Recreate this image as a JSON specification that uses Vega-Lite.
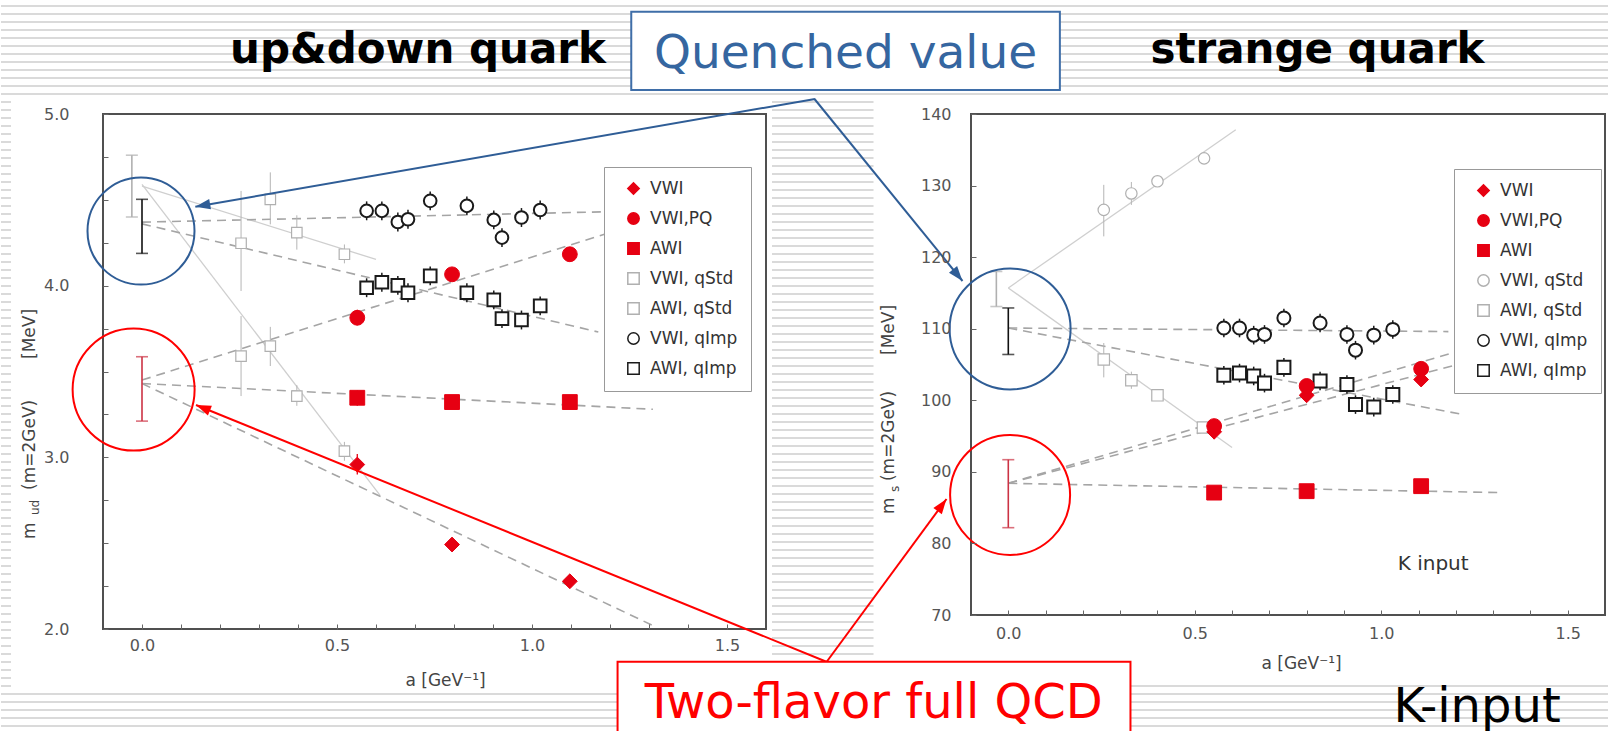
{
  "$schema": "https://vega.github.io/schema/vega-lite/v6.json",
  "padding": 0,
  "background": "white",
  "bounds": "flush",
  "spacing": 205,
  "config": {
    "font": "DejaVu Sans",
    "view": {"stroke": null},
    "axis": {"domain": false, "grid": false, "labelFont": "DejaVu Sans", "labelFontSize": 16, "labelColor": "#555", "tickColor": "#666", "tickSize": -5, "tickWidth": 1, "titleFont": "DejaVu Sans", "titleFontSize": 17, "titleFontWeight": "normal", "titleColor": "#444", "labelOverlap": false, "labelFlush": false},
    "legend": {"orient": "none", "title": null, "fillColor": "white", "strokeColor": "#999", "padding": 13, "rowPadding": 11, "labelFont": "DejaVu Sans", "labelFontSize": 17, "labelColor": "#333", "symbolSize": 130, "symbolStrokeWidth": 1.5, "labelOffset": 8, "symbolOffset": 8}
  },
  "datasets": {
    "pts": [
      {"p":"ud","s":"VWI","a":0.552,"m":2.958,"lo":2.9,"hi":3.02},
      {"p":"ud","s":"VWI","a":0.795,"m":2.492,"lo":2.46,"hi":2.52},
      {"p":"ud","s":"VWI","a":1.097,"m":2.278,"lo":2.25,"hi":2.31},
      {"p":"ud","s":"VWI,PQ","a":0.552,"m":3.813,"lo":3.77,"hi":3.86},
      {"p":"ud","s":"VWI,PQ","a":0.795,"m":4.066,"lo":4.03,"hi":4.1},
      {"p":"ud","s":"VWI,PQ","a":1.097,"m":4.183,"lo":4.15,"hi":4.22},
      {"p":"ud","s":"AWI","a":0.552,"m":3.347,"lo":3.3,"hi":3.39},
      {"p":"ud","s":"AWI","a":0.795,"m":3.322,"lo":3.3,"hi":3.35},
      {"p":"ud","s":"AWI","a":1.097,"m":3.322,"lo":3.3,"hi":3.35},
      {"p":"ud","s":"VWI, qStd","a":0.254,"m":4.247,"lo":3.969,"hi":4.552},
      {"p":"ud","s":"VWI, qStd","a":0.329,"m":4.503,"lo":4.357,"hi":4.66},
      {"p":"ud","s":"VWI, qStd","a":0.397,"m":4.309,"lo":4.21,"hi":4.41},
      {"p":"ud","s":"VWI, qStd","a":0.519,"m":4.183,"lo":4.13,"hi":4.24},
      {"p":"ud","s":"AWI, qStd","a":0.254,"m":3.59,"lo":3.357,"hi":3.823},
      {"p":"ud","s":"AWI, qStd","a":0.329,"m":3.648,"lo":3.532,"hi":3.76},
      {"p":"ud","s":"AWI, qStd","a":0.397,"m":3.357,"lo":3.3,"hi":3.42},
      {"p":"ud","s":"AWI, qStd","a":0.519,"m":3.036,"lo":2.98,"hi":3.09},
      {"p":"ud","s":"VWI, qImp","a":0.576,"m":4.436,"lo":4.381,"hi":4.491},
      {"p":"ud","s":"VWI, qImp","a":0.615,"m":4.436,"lo":4.381,"hi":4.491},
      {"p":"ud","s":"VWI, qImp","a":0.656,"m":4.371,"lo":4.316,"hi":4.426},
      {"p":"ud","s":"VWI, qImp","a":0.682,"m":4.387,"lo":4.332,"hi":4.442},
      {"p":"ud","s":"VWI, qImp","a":0.739,"m":4.494,"lo":4.439,"hi":4.549},
      {"p":"ud","s":"VWI, qImp","a":0.833,"m":4.465,"lo":4.41,"hi":4.52},
      {"p":"ud","s":"VWI, qImp","a":0.902,"m":4.383,"lo":4.328,"hi":4.438},
      {"p":"ud","s":"VWI, qImp","a":0.923,"m":4.28,"lo":4.225,"hi":4.335},
      {"p":"ud","s":"VWI, qImp","a":0.973,"m":4.397,"lo":4.342,"hi":4.452},
      {"p":"ud","s":"VWI, qImp","a":1.021,"m":4.441,"lo":4.386,"hi":4.496},
      {"p":"ud","s":"AWI, qImp","a":0.576,"m":3.988,"lo":3.933,"hi":4.043},
      {"p":"ud","s":"AWI, qImp","a":0.615,"m":4.02,"lo":3.965,"hi":4.075},
      {"p":"ud","s":"AWI, qImp","a":0.656,"m":4.002,"lo":3.947,"hi":4.057},
      {"p":"ud","s":"AWI, qImp","a":0.682,"m":3.959,"lo":3.904,"hi":4.014},
      {"p":"ud","s":"AWI, qImp","a":0.739,"m":4.057,"lo":4.002,"hi":4.112},
      {"p":"ud","s":"AWI, qImp","a":0.833,"m":3.959,"lo":3.904,"hi":4.014},
      {"p":"ud","s":"AWI, qImp","a":0.902,"m":3.917,"lo":3.862,"hi":3.972},
      {"p":"ud","s":"AWI, qImp","a":0.923,"m":3.808,"lo":3.753,"hi":3.863},
      {"p":"ud","s":"AWI, qImp","a":0.973,"m":3.8,"lo":3.745,"hi":3.855},
      {"p":"ud","s":"AWI, qImp","a":1.021,"m":3.882,"lo":3.827,"hi":3.937},
      {"p":"s","s":"VWI","a":0.552,"m":95.6,"lo":94.6,"hi":96.6},
      {"p":"s","s":"VWI","a":0.8,"m":100.7,"lo":99.9,"hi":101.5},
      {"p":"s","s":"VWI","a":1.107,"m":102.9,"lo":102.1,"hi":103.7},
      {"p":"s","s":"VWI,PQ","a":0.552,"m":96.4,"lo":95.4,"hi":97.4},
      {"p":"s","s":"VWI,PQ","a":0.8,"m":102.0,"lo":101.2,"hi":102.8},
      {"p":"s","s":"VWI,PQ","a":1.107,"m":104.4,"lo":103.6,"hi":105.2},
      {"p":"s","s":"AWI","a":0.552,"m":87.1,"lo":86.3,"hi":87.9},
      {"p":"s","s":"AWI","a":0.8,"m":87.3,"lo":86.7,"hi":87.9},
      {"p":"s","s":"AWI","a":1.107,"m":88.0,"lo":87.4,"hi":88.6},
      {"p":"s","s":"VWI, qStd","a":0.256,"m":126.6,"lo":122.9,"hi":130.1},
      {"p":"s","s":"VWI, qStd","a":0.33,"m":128.9,"lo":127.3,"hi":130.5},
      {"p":"s","s":"VWI, qStd","a":0.4,"m":130.6,"lo":129.8,"hi":131.4},
      {"p":"s","s":"VWI, qStd","a":0.525,"m":133.8,"lo":133.1,"hi":134.5},
      {"p":"s","s":"AWI, qStd","a":0.256,"m":105.7,"lo":103.2,"hi":108.0},
      {"p":"s","s":"AWI, qStd","a":0.33,"m":102.8,"lo":101.6,"hi":104.0},
      {"p":"s","s":"AWI, qStd","a":0.4,"m":100.7,"lo":100.1,"hi":101.3},
      {"p":"s","s":"AWI, qStd","a":0.522,"m":96.2,"lo":95.6,"hi":96.8},
      {"p":"s","s":"VWI, qImp","a":0.578,"m":110.1,"lo":108.8,"hi":111.4},
      {"p":"s","s":"VWI, qImp","a":0.62,"m":110.1,"lo":108.8,"hi":111.4},
      {"p":"s","s":"VWI, qImp","a":0.658,"m":109.1,"lo":107.8,"hi":110.4},
      {"p":"s","s":"VWI, qImp","a":0.687,"m":109.2,"lo":107.9,"hi":110.5},
      {"p":"s","s":"VWI, qImp","a":0.739,"m":111.5,"lo":110.2,"hi":112.8},
      {"p":"s","s":"VWI, qImp","a":0.836,"m":110.8,"lo":109.5,"hi":112.1},
      {"p":"s","s":"VWI, qImp","a":0.908,"m":109.2,"lo":107.9,"hi":110.5},
      {"p":"s","s":"VWI, qImp","a":0.931,"m":107.0,"lo":105.7,"hi":108.3},
      {"p":"s","s":"VWI, qImp","a":0.98,"m":109.1,"lo":107.8,"hi":110.4},
      {"p":"s","s":"VWI, qImp","a":1.031,"m":109.9,"lo":108.6,"hi":111.2},
      {"p":"s","s":"AWI, qImp","a":0.578,"m":103.5,"lo":102.2,"hi":104.8},
      {"p":"s","s":"AWI, qImp","a":0.62,"m":103.8,"lo":102.5,"hi":105.1},
      {"p":"s","s":"AWI, qImp","a":0.658,"m":103.4,"lo":102.1,"hi":104.7},
      {"p":"s","s":"AWI, qImp","a":0.687,"m":102.4,"lo":101.1,"hi":103.7},
      {"p":"s","s":"AWI, qImp","a":0.739,"m":104.6,"lo":103.3,"hi":105.9},
      {"p":"s","s":"AWI, qImp","a":0.836,"m":102.7,"lo":101.4,"hi":104.0},
      {"p":"s","s":"AWI, qImp","a":0.908,"m":102.2,"lo":100.9,"hi":103.5},
      {"p":"s","s":"AWI, qImp","a":0.931,"m":99.4,"lo":98.1,"hi":100.7},
      {"p":"s","s":"AWI, qImp","a":0.98,"m":99.05,"lo":97.75,"hi":100.35},
      {"p":"s","s":"AWI, qImp","a":1.031,"m":100.8,"lo":99.5,"hi":102.1}
    ],
    "ext": [
      {"p":"ud","k":"qStd","a":-0.026,"m":4.58,"lo":4.4,"hi":4.76},
      {"p":"ud","k":"quenched","a":0,"m":4.357,"lo":4.188,"hi":4.503},
      {"p":"ud","k":"full","a":0,"m":3.438,"lo":3.211,"hi":3.586},
      {"p":"s","k":"qStd","a":-0.032,"m":115.5,"lo":113.1,"hi":118.0},
      {"p":"s","k":"quenched","a":0,"m":110.1,"lo":106.4,"hi":112.9},
      {"p":"s","k":"full","a":0,"m":88.6,"lo":82.2,"hi":91.7}
    ],
    "fit": [
      {"p":"ud","f":"VWI, qStd","k":"qStd","a":0,"m":4.58},
      {"p":"ud","f":"VWI, qStd","k":"qStd","a":0.6,"m":4.153},
      {"p":"ud","f":"AWI, qStd","k":"qStd","a":0,"m":4.59},
      {"p":"ud","f":"AWI, qStd","k":"qStd","a":0.61,"m":2.78},
      {"p":"ud","f":"VWI, qImp","k":"dash","a":0,"m":4.37},
      {"p":"ud","f":"VWI, qImp","k":"dash","a":1.18,"m":4.43},
      {"p":"ud","f":"AWI, qImp","k":"dash","a":0,"m":4.36},
      {"p":"ud","f":"AWI, qImp","k":"dash","a":1.17,"m":3.73},
      {"p":"ud","f":"VWI,PQ","k":"dash","a":0,"m":3.45},
      {"p":"ud","f":"VWI,PQ","k":"dash","a":1.2,"m":4.31},
      {"p":"ud","f":"AWI","k":"dash","a":0,"m":3.43},
      {"p":"ud","f":"AWI","k":"dash","a":1.31,"m":3.28},
      {"p":"ud","f":"VWI","k":"dash","a":0,"m":3.43},
      {"p":"ud","f":"VWI","k":"dash","a":1.31,"m":2.02},
      {"p":"s","f":"VWI, qStd","k":"qStd","a":0,"m":115.7},
      {"p":"s","f":"VWI, qStd","k":"qStd","a":0.61,"m":137.8},
      {"p":"s","f":"AWI, qStd","k":"qStd","a":0,"m":115.7},
      {"p":"s","f":"AWI, qStd","k":"qStd","a":0.6,"m":93.4},
      {"p":"s","f":"VWI, qImp","k":"dash","a":0,"m":110.1},
      {"p":"s","f":"VWI, qImp","k":"dash","a":1.18,"m":109.6},
      {"p":"s","f":"AWI, qImp","k":"dash","a":0,"m":110.1},
      {"p":"s","f":"AWI, qImp","k":"dash","a":1.22,"m":98.0},
      {"p":"s","f":"VWI,PQ","k":"dash","a":0,"m":88.4},
      {"p":"s","f":"VWI,PQ","k":"dash","a":1.19,"m":106.6},
      {"p":"s","f":"VWI","k":"dash","a":0,"m":88.4},
      {"p":"s","f":"VWI","k":"dash","a":1.19,"m":104.8},
      {"p":"s","f":"AWI","k":"dash","a":0,"m":88.4},
      {"p":"s","f":"AWI","k":"dash","a":1.32,"m":87.1}
    ]
  },
  "resolve": {
    "scale": {"shape": "independent", "fill": "independent", "stroke": "independent", "color": "independent"},
    "legend": {"shape": "independent", "fill": "independent", "stroke": "independent"}
  },
  "hconcat": [
    {
      "width": 663,
      "height": 515,
      "layer": [
        {
          "data": {"values": [{}]},
          "mark": {"type": "rect", "fill": {"gradient": "linear", "x1": 0, "y1": 0, "x2": 0, "y2": 1, "stops": [
            {"offset":0.00684,"color":"#fff"},{"offset":0.00684,"color":"#dadada"},{"offset":0.00958,"color":"#dadada"},{"offset":0.00958,"color":"#fff"},
            {"offset":0.01778,"color":"#fff"},{"offset":0.01778,"color":"#dadada"},{"offset":0.02052,"color":"#dadada"},{"offset":0.02052,"color":"#fff"},
            {"offset":0.02873,"color":"#fff"},{"offset":0.02873,"color":"#dadada"},{"offset":0.03146,"color":"#dadada"},{"offset":0.03146,"color":"#fff"},
            {"offset":0.03967,"color":"#fff"},{"offset":0.03967,"color":"#dadada"},{"offset":0.04241,"color":"#dadada"},{"offset":0.04241,"color":"#fff"},
            {"offset":0.05062,"color":"#fff"},{"offset":0.05062,"color":"#dadada"},{"offset":0.05335,"color":"#dadada"},{"offset":0.05335,"color":"#fff"},
            {"offset":0.06156,"color":"#fff"},{"offset":0.06156,"color":"#dadada"},{"offset":0.0643,"color":"#dadada"},{"offset":0.0643,"color":"#fff"},
            {"offset":0.0725,"color":"#fff"},{"offset":0.0725,"color":"#dadada"},{"offset":0.07524,"color":"#dadada"},{"offset":0.07524,"color":"#fff"},
            {"offset":0.08345,"color":"#fff"},{"offset":0.08345,"color":"#dadada"},{"offset":0.08618,"color":"#dadada"},{"offset":0.08618,"color":"#fff"},
            {"offset":0.09439,"color":"#fff"},{"offset":0.09439,"color":"#dadada"},{"offset":0.09713,"color":"#dadada"},{"offset":0.09713,"color":"#fff"},
            {"offset":0.10534,"color":"#fff"},{"offset":0.10534,"color":"#dadada"},{"offset":0.10807,"color":"#dadada"},{"offset":0.10807,"color":"#fff"},
            {"offset":0.11628,"color":"#fff"},{"offset":0.11628,"color":"#dadada"},{"offset":0.11902,"color":"#dadada"},{"offset":0.11902,"color":"#fff"},
            {"offset":0.12722,"color":"#fff"},{"offset":0.12722,"color":"#dadada"},{"offset":0.12996,"color":"#dadada"},{"offset":0.12996,"color":"#fff"},
            {"offset":0.13817,"color":"#fff"},{"offset":0.13817,"color":"#dadada"},{"offset":0.1409,"color":"#dadada"},{"offset":0.1409,"color":"#fff"},
            {"offset":0.14911,"color":"#fff"},{"offset":0.14911,"color":"#dadada"},{"offset":0.15185,"color":"#dadada"},{"offset":0.15185,"color":"#fff"},
            {"offset":0.16005,"color":"#fff"},{"offset":0.16005,"color":"#dadada"},{"offset":0.16279,"color":"#dadada"},{"offset":0.16279,"color":"#fff"},
            {"offset":0.171,"color":"#fff"},{"offset":0.171,"color":"#dadada"},{"offset":0.17373,"color":"#dadada"},{"offset":0.17373,"color":"#fff"},
            {"offset":0.18194,"color":"#fff"},{"offset":0.18194,"color":"#dadada"},{"offset":0.18468,"color":"#dadada"},{"offset":0.18468,"color":"#fff"},
            {"offset":0.19289,"color":"#fff"},{"offset":0.19289,"color":"#dadada"},{"offset":0.19562,"color":"#dadada"},{"offset":0.19562,"color":"#fff"},
            {"offset":0.20383,"color":"#fff"},{"offset":0.20383,"color":"#dadada"},{"offset":0.20657,"color":"#dadada"},{"offset":0.20657,"color":"#fff"},
            {"offset":0.21477,"color":"#fff"},{"offset":0.21477,"color":"#dadada"},{"offset":0.21751,"color":"#dadada"},{"offset":0.21751,"color":"#fff"},
            {"offset":0.22572,"color":"#fff"},{"offset":0.22572,"color":"#dadada"},{"offset":0.22845,"color":"#dadada"},{"offset":0.22845,"color":"#fff"},
            {"offset":0.23666,"color":"#fff"},{"offset":0.23666,"color":"#dadada"},{"offset":0.2394,"color":"#dadada"},{"offset":0.2394,"color":"#fff"},
            {"offset":0.24761,"color":"#fff"},{"offset":0.24761,"color":"#dadada"},{"offset":0.25034,"color":"#dadada"},{"offset":0.25034,"color":"#fff"},
            {"offset":0.25855,"color":"#fff"},{"offset":0.25855,"color":"#dadada"},{"offset":0.26129,"color":"#dadada"},{"offset":0.26129,"color":"#fff"},
            {"offset":0.26949,"color":"#fff"},{"offset":0.26949,"color":"#dadada"},{"offset":0.27223,"color":"#dadada"},{"offset":0.27223,"color":"#fff"},
            {"offset":0.28044,"color":"#fff"},{"offset":0.28044,"color":"#dadada"},{"offset":0.28317,"color":"#dadada"},{"offset":0.28317,"color":"#fff"},
            {"offset":0.29138,"color":"#fff"},{"offset":0.29138,"color":"#dadada"},{"offset":0.29412,"color":"#dadada"},{"offset":0.29412,"color":"#fff"},
            {"offset":0.30233,"color":"#fff"},{"offset":0.30233,"color":"#dadada"},{"offset":0.30506,"color":"#dadada"},{"offset":0.30506,"color":"#fff"},
            {"offset":0.31327,"color":"#fff"},{"offset":0.31327,"color":"#dadada"},{"offset":0.31601,"color":"#dadada"},{"offset":0.31601,"color":"#fff"},
            {"offset":0.32421,"color":"#fff"},{"offset":0.32421,"color":"#dadada"},{"offset":0.32695,"color":"#dadada"},{"offset":0.32695,"color":"#fff"},
            {"offset":0.33516,"color":"#fff"},{"offset":0.33516,"color":"#dadada"},{"offset":0.33789,"color":"#dadada"},{"offset":0.33789,"color":"#fff"},
            {"offset":0.3461,"color":"#fff"},{"offset":0.3461,"color":"#dadada"},{"offset":0.34884,"color":"#dadada"},{"offset":0.34884,"color":"#fff"},
            {"offset":0.35705,"color":"#fff"},{"offset":0.35705,"color":"#dadada"},{"offset":0.35978,"color":"#dadada"},{"offset":0.35978,"color":"#fff"},
            {"offset":0.36799,"color":"#fff"},{"offset":0.36799,"color":"#dadada"},{"offset":0.37073,"color":"#dadada"},{"offset":0.37073,"color":"#fff"},
            {"offset":0.37893,"color":"#fff"},{"offset":0.37893,"color":"#dadada"},{"offset":0.38167,"color":"#dadada"},{"offset":0.38167,"color":"#fff"},
            {"offset":0.38988,"color":"#fff"},{"offset":0.38988,"color":"#dadada"},{"offset":0.39261,"color":"#dadada"},{"offset":0.39261,"color":"#fff"},
            {"offset":0.40082,"color":"#fff"},{"offset":0.40082,"color":"#dadada"},{"offset":0.40356,"color":"#dadada"},{"offset":0.40356,"color":"#fff"},
            {"offset":0.41176,"color":"#fff"},{"offset":0.41176,"color":"#dadada"},{"offset":0.4145,"color":"#dadada"},{"offset":0.4145,"color":"#fff"},
            {"offset":0.42271,"color":"#fff"},{"offset":0.42271,"color":"#dadada"},{"offset":0.42544,"color":"#dadada"},{"offset":0.42544,"color":"#fff"},
            {"offset":0.43365,"color":"#fff"},{"offset":0.43365,"color":"#dadada"},{"offset":0.43639,"color":"#dadada"},{"offset":0.43639,"color":"#fff"},
            {"offset":0.4446,"color":"#fff"},{"offset":0.4446,"color":"#dadada"},{"offset":0.44733,"color":"#dadada"},{"offset":0.44733,"color":"#fff"},
            {"offset":0.45554,"color":"#fff"},{"offset":0.45554,"color":"#dadada"},{"offset":0.45828,"color":"#dadada"},{"offset":0.45828,"color":"#fff"},
            {"offset":0.46648,"color":"#fff"},{"offset":0.46648,"color":"#dadada"},{"offset":0.46922,"color":"#dadada"},{"offset":0.46922,"color":"#fff"},
            {"offset":0.47743,"color":"#fff"},{"offset":0.47743,"color":"#dadada"},{"offset":0.48016,"color":"#dadada"},{"offset":0.48016,"color":"#fff"},
            {"offset":0.48837,"color":"#fff"},{"offset":0.48837,"color":"#dadada"},{"offset":0.49111,"color":"#dadada"},{"offset":0.49111,"color":"#fff"},
            {"offset":0.49932,"color":"#fff"},{"offset":0.49932,"color":"#dadada"},{"offset":0.50205,"color":"#dadada"},{"offset":0.50205,"color":"#fff"},
            {"offset":0.51026,"color":"#fff"},{"offset":0.51026,"color":"#dadada"},{"offset":0.513,"color":"#dadada"},{"offset":0.513,"color":"#fff"},
            {"offset":0.5212,"color":"#fff"},{"offset":0.5212,"color":"#dadada"},{"offset":0.52394,"color":"#dadada"},{"offset":0.52394,"color":"#fff"},
            {"offset":0.53215,"color":"#fff"},{"offset":0.53215,"color":"#dadada"},{"offset":0.53488,"color":"#dadada"},{"offset":0.53488,"color":"#fff"},
            {"offset":0.54309,"color":"#fff"},{"offset":0.54309,"color":"#dadada"},{"offset":0.54583,"color":"#dadada"},{"offset":0.54583,"color":"#fff"},
            {"offset":0.55404,"color":"#fff"},{"offset":0.55404,"color":"#dadada"},{"offset":0.55677,"color":"#dadada"},{"offset":0.55677,"color":"#fff"},
            {"offset":0.56498,"color":"#fff"},{"offset":0.56498,"color":"#dadada"},{"offset":0.56772,"color":"#dadada"},{"offset":0.56772,"color":"#fff"},
            {"offset":0.57592,"color":"#fff"},{"offset":0.57592,"color":"#dadada"},{"offset":0.57866,"color":"#dadada"},{"offset":0.57866,"color":"#fff"},
            {"offset":0.58687,"color":"#fff"},{"offset":0.58687,"color":"#dadada"},{"offset":0.5896,"color":"#dadada"},{"offset":0.5896,"color":"#fff"},
            {"offset":0.59781,"color":"#fff"},{"offset":0.59781,"color":"#dadada"},{"offset":0.60055,"color":"#dadada"},{"offset":0.60055,"color":"#fff"},
            {"offset":0.60876,"color":"#fff"},{"offset":0.60876,"color":"#dadada"},{"offset":0.61149,"color":"#dadada"},{"offset":0.61149,"color":"#fff"},
            {"offset":0.6197,"color":"#fff"},{"offset":0.6197,"color":"#dadada"},{"offset":0.62244,"color":"#dadada"},{"offset":0.62244,"color":"#fff"},
            {"offset":0.63064,"color":"#fff"},{"offset":0.63064,"color":"#dadada"},{"offset":0.63338,"color":"#dadada"},{"offset":0.63338,"color":"#fff"},
            {"offset":0.64159,"color":"#fff"},{"offset":0.64159,"color":"#dadada"},{"offset":0.64432,"color":"#dadada"},{"offset":0.64432,"color":"#fff"},
            {"offset":0.65253,"color":"#fff"},{"offset":0.65253,"color":"#dadada"},{"offset":0.65527,"color":"#dadada"},{"offset":0.65527,"color":"#fff"},
            {"offset":0.66347,"color":"#fff"},{"offset":0.66347,"color":"#dadada"},{"offset":0.66621,"color":"#dadada"},{"offset":0.66621,"color":"#fff"},
            {"offset":0.67442,"color":"#fff"},{"offset":0.67442,"color":"#dadada"},{"offset":0.67715,"color":"#dadada"},{"offset":0.67715,"color":"#fff"},
            {"offset":0.68536,"color":"#fff"},{"offset":0.68536,"color":"#dadada"},{"offset":0.6881,"color":"#dadada"},{"offset":0.6881,"color":"#fff"},
            {"offset":0.69631,"color":"#fff"},{"offset":0.69631,"color":"#dadada"},{"offset":0.69904,"color":"#dadada"},{"offset":0.69904,"color":"#fff"},
            {"offset":0.70725,"color":"#fff"},{"offset":0.70725,"color":"#dadada"},{"offset":0.70999,"color":"#dadada"},{"offset":0.70999,"color":"#fff"},
            {"offset":0.71819,"color":"#fff"},{"offset":0.71819,"color":"#dadada"},{"offset":0.72093,"color":"#dadada"},{"offset":0.72093,"color":"#fff"},
            {"offset":0.72914,"color":"#fff"},{"offset":0.72914,"color":"#dadada"},{"offset":0.73187,"color":"#dadada"},{"offset":0.73187,"color":"#fff"},
            {"offset":0.74008,"color":"#fff"},{"offset":0.74008,"color":"#dadada"},{"offset":0.74282,"color":"#dadada"},{"offset":0.74282,"color":"#fff"},
            {"offset":0.75103,"color":"#fff"},{"offset":0.75103,"color":"#dadada"},{"offset":0.75376,"color":"#dadada"},{"offset":0.75376,"color":"#fff"},
            {"offset":0.76197,"color":"#fff"},{"offset":0.76197,"color":"#dadada"},{"offset":0.76471,"color":"#dadada"},{"offset":0.76471,"color":"#fff"},
            {"offset":0.77291,"color":"#fff"},{"offset":0.77291,"color":"#dadada"},{"offset":0.77565,"color":"#dadada"},{"offset":0.77565,"color":"#fff"},
            {"offset":0.78386,"color":"#fff"},{"offset":0.78386,"color":"#dadada"},{"offset":0.78659,"color":"#dadada"},{"offset":0.78659,"color":"#fff"},
            {"offset":0.7948,"color":"#fff"},{"offset":0.7948,"color":"#dadada"},{"offset":0.79754,"color":"#dadada"},{"offset":0.79754,"color":"#fff"},
            {"offset":0.80575,"color":"#fff"},{"offset":0.80575,"color":"#dadada"},{"offset":0.80848,"color":"#dadada"},{"offset":0.80848,"color":"#fff"},
            {"offset":0.81669,"color":"#fff"},{"offset":0.81669,"color":"#dadada"},{"offset":0.81943,"color":"#dadada"},{"offset":0.81943,"color":"#fff"},
            {"offset":0.82763,"color":"#fff"},{"offset":0.82763,"color":"#dadada"},{"offset":0.83037,"color":"#dadada"},{"offset":0.83037,"color":"#fff"},
            {"offset":0.83858,"color":"#fff"},{"offset":0.83858,"color":"#dadada"},{"offset":0.84131,"color":"#dadada"},{"offset":0.84131,"color":"#fff"},
            {"offset":0.84952,"color":"#fff"},{"offset":0.84952,"color":"#dadada"},{"offset":0.85226,"color":"#dadada"},{"offset":0.85226,"color":"#fff"},
            {"offset":0.86047,"color":"#fff"},{"offset":0.86047,"color":"#dadada"},{"offset":0.8632,"color":"#dadada"},{"offset":0.8632,"color":"#fff"},
            {"offset":0.87141,"color":"#fff"},{"offset":0.87141,"color":"#dadada"},{"offset":0.87415,"color":"#dadada"},{"offset":0.87415,"color":"#fff"},
            {"offset":0.88235,"color":"#fff"},{"offset":0.88235,"color":"#dadada"},{"offset":0.88509,"color":"#dadada"},{"offset":0.88509,"color":"#fff"},
            {"offset":0.8933,"color":"#fff"},{"offset":0.8933,"color":"#dadada"},{"offset":0.89603,"color":"#dadada"},{"offset":0.89603,"color":"#fff"},
            {"offset":0.90424,"color":"#fff"},{"offset":0.90424,"color":"#dadada"},{"offset":0.90698,"color":"#dadada"},{"offset":0.90698,"color":"#fff"},
            {"offset":0.91518,"color":"#fff"},{"offset":0.91518,"color":"#dadada"},{"offset":0.91792,"color":"#dadada"},{"offset":0.91792,"color":"#fff"},
            {"offset":0.92613,"color":"#fff"},{"offset":0.92613,"color":"#dadada"},{"offset":0.92886,"color":"#dadada"},{"offset":0.92886,"color":"#fff"},
            {"offset":0.93707,"color":"#fff"},{"offset":0.93707,"color":"#dadada"},{"offset":0.93981,"color":"#dadada"},{"offset":0.93981,"color":"#fff"},
            {"offset":0.94802,"color":"#fff"},{"offset":0.94802,"color":"#dadada"},{"offset":0.95075,"color":"#dadada"},{"offset":0.95075,"color":"#fff"},
            {"offset":0.95896,"color":"#fff"},{"offset":0.95896,"color":"#dadada"},{"offset":0.9617,"color":"#dadada"},{"offset":0.9617,"color":"#fff"},
            {"offset":0.9699,"color":"#fff"},{"offset":0.9699,"color":"#dadada"},{"offset":0.97264,"color":"#dadada"},{"offset":0.97264,"color":"#fff"},
            {"offset":0.98085,"color":"#fff"},{"offset":0.98085,"color":"#dadada"},{"offset":0.98358,"color":"#dadada"},{"offset":0.98358,"color":"#fff"},
            {"offset":0.99179,"color":"#fff"},{"offset":0.99179,"color":"#dadada"},{"offset":0.99453,"color":"#dadada"},{"offset":0.99453,"color":"#fff"}
          ]}},
          "encoding": {
            "x": {"datum": -0.36154, "type": "quantitative"},
            "x2": {"datum": 3.76154},
            "y": {"datum": 5.66407, "type": "quantitative"},
            "y2": {"datum": 1.4059}
          }
        },
        {
          "data": {"values": [{}]},
          "mark": {"type": "rect", "fill": "white"},
          "encoding": {"x": {"datum": -0.3359, "type": "quantitative"}, "x2": {"datum": 1.61538}, "y": {"datum": 5.07573, "type": "quantitative"}, "y2": {"datum": 1.62718}}
        },
        {
          "data": {"values": [{}]},
          "mark": {"type": "rect", "filled": false, "stroke": "#505050", "strokeWidth": 2},
          "encoding": {"x": {"datum": -0.1, "type": "quantitative"}, "x2": {"datum": 1.6}, "y": {"datum": 2, "type": "quantitative"}, "y2": {"datum": 5}}
        },
        {
          "data": {"name": "fit"},
          "transform": [{"filter": "datum.p=='ud' && datum.k=='qStd'"}],
          "mark": {"type": "line", "color": "#cfcfcf", "strokeWidth": 1.3},
          "encoding": {
            "x": {"field": "a", "type": "quantitative", "scale": {"domain": [-0.1, 1.6], "nice": false, "zero": false},
                  "axis": {"title": "a [GeV⁻¹]", "zindex": 1, "labelOverlap": false, "values": [0,0.1,0.2,0.3,0.4,0.5,0.6,0.7,0.8,0.9,1,1.1,1.2,1.3,1.4,1.5], "format": ".1f", "labelOpacity": {"condition": {"test": "abs(datum.value*2-round(datum.value*2))<0.001", "value": 1}, "value": 0}, "labelPadding": 13, "titlePadding": 19, "titleX": 342}},
            "y": {"field": "m", "type": "quantitative", "scale": {"domain": [2, 5], "nice": false, "zero": false},
                  "axis": {"title": null, "zindex": 1, "labelOverlap": false, "values": [2,2.25,2.5,2.75,3,3.25,3.5,3.75,4,4.25,4.5,4.75,5], "format": ".1f", "labelOpacity": {"condition": {"test": "abs(datum.value-round(datum.value))<0.001", "value": 1}, "value": 0}, "labelPadding": 39}},
            "detail": {"field": "f"},
            "order": {"field": "a"}
          }
        },
        {
          "data": {"name": "fit"},
          "transform": [{"filter": "datum.p=='ud' && datum.k=='dash'"}],
          "mark": {"type": "line", "color": "#a5a5a5", "strokeWidth": 1.6, "strokeDash": [9, 6]},
          "encoding": {
            "x": {"field": "a", "type": "quantitative"},
            "y": {"field": "m", "type": "quantitative"},
            "detail": {"field": "f"},
            "order": {"field": "a"}
          }
        },
        {
          "data": {"name": "ext"},
          "transform": [{"filter": "datum.p=='ud'"}],
          "mark": {"type": "rule", "strokeWidth": 1.6},
          "encoding": {
            "x": {"field": "a", "type": "quantitative"},
            "y": {"field": "lo", "type": "quantitative"},
            "y2": {"field": "hi"},
            "color": {"field": "k", "type": "nominal", "scale": {"domain": ["qStd", "quenched", "full"], "range": ["#b0b0b0", "#111111", "#cc3344"]}, "legend": null}
          }
        },
        {
          "data": {"name": "ext"},
          "transform": [{"filter": "datum.p=='ud'"}],
          "mark": {"type": "tick", "orient": "horizontal", "size": 12, "thickness": 1.6},
          "encoding": {
            "x": {"field": "a", "type": "quantitative"},
            "y": {"field": "lo", "type": "quantitative"},
            "color": {"field": "k", "type": "nominal", "scale": {"domain": ["qStd", "quenched", "full"], "range": ["#b0b0b0", "#111111", "#cc3344"]}, "legend": null}
          }
        },
        {
          "data": {"name": "ext"},
          "transform": [{"filter": "datum.p=='ud'"}],
          "mark": {"type": "tick", "orient": "horizontal", "size": 12, "thickness": 1.6},
          "encoding": {
            "x": {"field": "a", "type": "quantitative"},
            "y": {"field": "hi", "type": "quantitative"},
            "color": {"field": "k", "type": "nominal", "scale": {"domain": ["qStd", "quenched", "full"], "range": ["#b0b0b0", "#111111", "#cc3344"]}, "legend": null}
          }
        },
        {
          "data": {"name": "pts"},
          "transform": [{"filter": "datum.p=='ud' && indexof(['VWI','VWI,PQ','AWI'], datum.s) >= 0"}],
          "mark": {"type": "rule", "color": "#e60012", "strokeWidth": 1.3},
          "encoding": {"x": {"field": "a", "type": "quantitative"}, "y": {"field": "lo", "type": "quantitative"}, "y2": {"field": "hi"}}
        },
        {
          "data": {"name": "pts"},
          "transform": [{"filter": "datum.p=='ud' && indexof(['VWI, qStd','AWI, qStd'], datum.s) >= 0"}],
          "mark": {"type": "rule", "color": "#b5b5b5", "strokeWidth": 1},
          "encoding": {"x": {"field": "a", "type": "quantitative"}, "y": {"field": "lo", "type": "quantitative"}, "y2": {"field": "hi"}}
        },
        {
          "data": {"name": "pts"},
          "transform": [{"filter": "datum.p=='ud' && indexof(['VWI, qImp','AWI, qImp'], datum.s) >= 0"}],
          "mark": {"type": "rule", "color": "#1a1a1a", "strokeWidth": 1.5},
          "encoding": {"x": {"field": "a", "type": "quantitative"}, "y": {"field": "lo", "type": "quantitative"}, "y2": {"field": "hi"}}
        },
        {
          "data": {"name": "pts"},
          "transform": [{"filter": "datum.p=='ud' && indexof(['VWI, qStd','AWI, qStd'], datum.s) >= 0"}],
          "mark": {"type": "point", "filled": true, "size": 110, "strokeWidth": 1.2, "opacity": 1},
          "encoding": {
            "x": {"field": "a", "type": "quantitative"},
            "y": {"field": "m", "type": "quantitative"},
            "shape": {"field": "s", "type": "nominal", "scale": {"domain": ["VWI","VWI,PQ","AWI","VWI, qStd","AWI, qStd","VWI, qImp","AWI, qImp"], "range": ["diamond","circle","square","square","square","circle","square"]}, "legend": {"legendX": 501, "legendY": 53}},
            "fill": {"field": "s", "type": "nominal", "scale": {"domain": ["VWI","VWI,PQ","AWI","VWI, qStd","AWI, qStd","VWI, qImp","AWI, qImp"], "range": ["#e60012","#e60012","#e60012","#ffffff","#ffffff","#ffffff","#ffffff"]}, "legend": {"legendX": 501, "legendY": 53}},
            "stroke": {"field": "s", "type": "nominal", "scale": {"domain": ["VWI","VWI,PQ","AWI","VWI, qStd","AWI, qStd","VWI, qImp","AWI, qImp"], "range": ["#e60012","#e60012","#e60012","#b0b0b0","#b0b0b0","#1a1a1a","#1a1a1a"]}, "legend": {"legendX": 501, "legendY": 53}}
          }
        },
        {
          "data": {"name": "pts"},
          "transform": [{"filter": "datum.p=='ud' && indexof(['VWI, qImp','AWI, qImp'], datum.s) >= 0"}],
          "mark": {"type": "point", "filled": true, "size": 160, "strokeWidth": 2, "opacity": 1},
          "encoding": {
            "x": {"field": "a", "type": "quantitative"},
            "y": {"field": "m", "type": "quantitative"},
            "shape": {"field": "s", "type": "nominal"},
            "fill": {"field": "s", "type": "nominal"},
            "stroke": {"field": "s", "type": "nominal"}
          }
        },
        {
          "data": {"name": "pts"},
          "transform": [{"filter": "datum.p=='ud' && indexof(['VWI','VWI,PQ','AWI'], datum.s) >= 0"}],
          "mark": {"type": "point", "filled": true, "size": 220, "strokeWidth": 1, "opacity": 1},
          "encoding": {
            "x": {"field": "a", "type": "quantitative"},
            "y": {"field": "m", "type": "quantitative"},
            "shape": {"field": "s", "type": "nominal"},
            "fill": {"field": "s", "type": "nominal"},
            "stroke": {"field": "s", "type": "nominal"}
          }
        },
        {
          "data": {"values": [{}]},
          "mark": {"type": "point", "shape": "circle", "size": 11449, "filled": false, "stroke": "#2f5d96", "strokeWidth": 2, "opacity": 1},
          "encoding": {"x": {"datum": -0.00256, "type": "quantitative"}, "y": {"datum": 4.3185, "type": "quantitative"}}
        },
        {
          "data": {"values": [{}]},
          "mark": {"type": "point", "shape": "circle", "size": 14884, "filled": false, "stroke": "#ff0000", "strokeWidth": 2, "opacity": 1},
          "encoding": {"x": {"datum": -0.0215, "type": "quantitative"}, "y": {"datum": 3.3946, "type": "quantitative"}}
        },
        {
          "data": {"values": [{}]},
          "mark": {"type": "rule", "color": "#2f5d96", "strokeWidth": 2},
          "encoding": {"x": {"datum": 1.7256, "type": "quantitative"}, "y": {"datum": 5.0874, "type": "quantitative"}, "x2": {"datum": 0.1367}, "y2": {"datum": 4.46}}
        },
        {
          "data": {"values": [{}]},
          "mark": {"type": "point", "shape": "M0,0L-0.7,2L0.7,2Z", "size": 225, "filled": true, "color": "#2f5d96", "angle": 260.1, "opacity": 1},
          "encoding": {"x": {"datum": 0.1367, "type": "quantitative"}, "y": {"datum": 4.46, "type": "quantitative"}}
        },
        {
          "data": {"values": [{}]},
          "mark": {"type": "rule", "color": "#ff0000", "strokeWidth": 2},
          "encoding": {"x": {"datum": 1.7564, "type": "quantitative"}, "y": {"datum": 1.8078, "type": "quantitative"}, "x2": {"datum": 0.1385}, "y2": {"datum": 3.3049}}
        },
        {
          "data": {"values": [{}]},
          "mark": {"type": "point", "shape": "M0,0L-0.7,2L0.7,2Z", "size": 225, "filled": true, "color": "#ff0000", "angle": 292.2, "opacity": 1},
          "encoding": {"x": {"datum": 0.1385, "type": "quantitative"}, "y": {"datum": 3.3049, "type": "quantitative"}}
        },
        {
          "data": {"values": [{}]},
          "mark": {"type": "text", "text": "up&down quark", "font": "DejaVu Sans", "fontSize": 42, "fontWeight": "bold", "color": "#000", "align": "center", "baseline": "alphabetic"},
          "encoding": {"x": {"datum": 0.7077, "type": "quantitative"}, "y": {"datum": 5.295, "type": "quantitative"}}
        },
        {
          "data": {"values": [{}]},
          "mark": {"type": "text", "text": "m", "fontSize": 17, "angle": 270, "align": "left", "baseline": "middle", "color": "#444"},
          "encoding": {"x": {"datum": -0.2872, "type": "quantitative"}, "y": {"datum": 2.5243, "type": "quantitative"}}
        },
        {
          "data": {"values": [{}]},
          "mark": {"type": "text", "text": "ud", "fontSize": 12, "angle": 270, "align": "left", "baseline": "middle", "color": "#444"},
          "encoding": {"x": {"datum": -0.2731, "type": "quantitative"}, "y": {"datum": 2.6641, "type": "quantitative"}}
        },
        {
          "data": {"values": [{}]},
          "mark": {"type": "text", "text": "(m=2GeV)", "fontSize": 17, "angle": 270, "align": "left", "baseline": "middle", "color": "#444"},
          "encoding": {"x": {"datum": -0.2872, "type": "quantitative"}, "y": {"datum": 2.8098, "type": "quantitative"}}
        },
        {
          "data": {"values": [{}]},
          "mark": {"type": "text", "text": "[MeV]", "fontSize": 17, "angle": 270, "align": "left", "baseline": "middle", "color": "#444"},
          "encoding": {"x": {"datum": -0.2872, "type": "quantitative"}, "y": {"datum": 3.5728, "type": "quantitative"}}
        }
      ]
    },
    {
      "width": 634,
      "height": 501,
      "layer": [
        {
          "data": {"values": [{}]},
          "mark": {"type": "rect", "fill": "white"},
          "encoding": {"x": {"datum": -0.36139, "type": "quantitative"}, "x2": {"datum": 1.60912}, "y": {"datum": 141.956, "type": "quantitative"}, "y2": {"datum": 61.056}}
        },
        {
          "data": {"values": [{}]},
          "mark": {"type": "rect", "filled": false, "stroke": "#505050", "strokeWidth": 2},
          "encoding": {"x": {"datum": -0.1, "type": "quantitative"}, "x2": {"datum": 1.6}, "y": {"datum": 70, "type": "quantitative"}, "y2": {"datum": 140}}
        },
        {
          "data": {"name": "fit"},
          "transform": [{"filter": "datum.p=='s' && datum.k=='qStd'"}],
          "mark": {"type": "line", "color": "#cfcfcf", "strokeWidth": 1.3},
          "encoding": {
            "x": {"field": "a", "type": "quantitative", "scale": {"domain": [-0.1, 1.6], "nice": false, "zero": false},
                  "axis": {"title": "a [GeV⁻¹]", "zindex": 1, "labelOverlap": false, "values": [0,0.1,0.2,0.3,0.4,0.5,0.6,0.7,0.8,0.9,1,1.1,1.2,1.3,1.4,1.5], "format": ".1f", "labelOpacity": {"condition": {"test": "abs(datum.value*2-round(datum.value*2))<0.001", "value": 1}, "value": 0}, "labelPadding": 15, "titlePadding": 14, "titleX": 330}},
            "y": {"field": "m", "type": "quantitative", "scale": {"domain": [70, 140], "nice": false, "zero": false},
                  "axis": {"title": null, "zindex": 1, "labelOverlap": false, "values": [70,75,80,85,90,95,100,105,110,115,120,125,130,135,140], "format": "d", "labelOpacity": {"condition": {"test": "datum.value % 10 == 0", "value": 1}, "value": 0}, "labelPadding": 25}},
            "detail": {"field": "f"},
            "order": {"field": "a"}
          }
        },
        {
          "data": {"name": "fit"},
          "transform": [{"filter": "datum.p=='s' && datum.k=='dash'"}],
          "mark": {"type": "line", "color": "#a5a5a5", "strokeWidth": 1.6, "strokeDash": [9, 6]},
          "encoding": {
            "x": {"field": "a", "type": "quantitative"},
            "y": {"field": "m", "type": "quantitative"},
            "detail": {"field": "f"},
            "order": {"field": "a"}
          }
        },
        {
          "data": {"name": "ext"},
          "transform": [{"filter": "datum.p=='s'"}],
          "mark": {"type": "rule", "strokeWidth": 1.6},
          "encoding": {
            "x": {"field": "a", "type": "quantitative"},
            "y": {"field": "lo", "type": "quantitative"},
            "y2": {"field": "hi"},
            "color": {"field": "k", "type": "nominal", "scale": {"domain": ["qStd", "quenched", "full"], "range": ["#b0b0b0", "#111111", "#cc3344"]}, "legend": null}
          }
        },
        {
          "data": {"name": "ext"},
          "transform": [{"filter": "datum.p=='s'"}],
          "mark": {"type": "tick", "orient": "horizontal", "size": 12, "thickness": 1.6},
          "encoding": {
            "x": {"field": "a", "type": "quantitative"},
            "y": {"field": "lo", "type": "quantitative"},
            "color": {"field": "k", "type": "nominal", "scale": {"domain": ["qStd", "quenched", "full"], "range": ["#b0b0b0", "#111111", "#cc3344"]}, "legend": null}
          }
        },
        {
          "data": {"name": "ext"},
          "transform": [{"filter": "datum.p=='s'"}],
          "mark": {"type": "tick", "orient": "horizontal", "size": 12, "thickness": 1.6},
          "encoding": {
            "x": {"field": "a", "type": "quantitative"},
            "y": {"field": "hi", "type": "quantitative"},
            "color": {"field": "k", "type": "nominal", "scale": {"domain": ["qStd", "quenched", "full"], "range": ["#b0b0b0", "#111111", "#cc3344"]}, "legend": null}
          }
        },
        {
          "data": {"name": "pts"},
          "transform": [{"filter": "datum.p=='s' && indexof(['VWI','VWI,PQ','AWI'], datum.s) >= 0"}],
          "mark": {"type": "rule", "color": "#e60012", "strokeWidth": 1.3},
          "encoding": {"x": {"field": "a", "type": "quantitative"}, "y": {"field": "lo", "type": "quantitative"}, "y2": {"field": "hi"}}
        },
        {
          "data": {"name": "pts"},
          "transform": [{"filter": "datum.p=='s' && indexof(['VWI, qStd','AWI, qStd'], datum.s) >= 0"}],
          "mark": {"type": "rule", "color": "#b5b5b5", "strokeWidth": 1},
          "encoding": {"x": {"field": "a", "type": "quantitative"}, "y": {"field": "lo", "type": "quantitative"}, "y2": {"field": "hi"}}
        },
        {
          "data": {"name": "pts"},
          "transform": [{"filter": "datum.p=='s' && indexof(['VWI, qImp','AWI, qImp'], datum.s) >= 0"}],
          "mark": {"type": "rule", "color": "#1a1a1a", "strokeWidth": 1.5},
          "encoding": {"x": {"field": "a", "type": "quantitative"}, "y": {"field": "lo", "type": "quantitative"}, "y2": {"field": "hi"}}
        },
        {
          "data": {"name": "pts"},
          "transform": [{"filter": "datum.p=='s' && indexof(['VWI, qStd','AWI, qStd'], datum.s) >= 0"}],
          "mark": {"type": "point", "filled": true, "size": 130, "strokeWidth": 1.2, "opacity": 1},
          "encoding": {
            "x": {"field": "a", "type": "quantitative"},
            "y": {"field": "m", "type": "quantitative"},
            "shape": {"field": "s", "type": "nominal", "scale": {"domain": ["VWI","VWI,PQ","AWI","VWI, qStd","AWI, qStd","VWI, qImp","AWI, qImp"], "range": ["diamond","circle","square","circle","square","circle","square"]}, "legend": {"legendX": 483, "legendY": 55}},
            "fill": {"field": "s", "type": "nominal", "scale": {"domain": ["VWI","VWI,PQ","AWI","VWI, qStd","AWI, qStd","VWI, qImp","AWI, qImp"], "range": ["#e60012","#e60012","#e60012","#ffffff","#ffffff","#ffffff","#ffffff"]}, "legend": {"legendX": 483, "legendY": 55}},
            "stroke": {"field": "s", "type": "nominal", "scale": {"domain": ["VWI","VWI,PQ","AWI","VWI, qStd","AWI, qStd","VWI, qImp","AWI, qImp"], "range": ["#e60012","#e60012","#e60012","#b0b0b0","#b0b0b0","#1a1a1a","#1a1a1a"]}, "legend": {"legendX": 483, "legendY": 55}}
          }
        },
        {
          "data": {"name": "pts"},
          "transform": [{"filter": "datum.p=='s' && indexof(['VWI, qImp','AWI, qImp'], datum.s) >= 0"}],
          "mark": {"type": "point", "filled": true, "size": 170, "strokeWidth": 2, "opacity": 1},
          "encoding": {
            "x": {"field": "a", "type": "quantitative"},
            "y": {"field": "m", "type": "quantitative"},
            "shape": {"field": "s", "type": "nominal"},
            "fill": {"field": "s", "type": "nominal"},
            "stroke": {"field": "s", "type": "nominal"}
          }
        },
        {
          "data": {"name": "pts"},
          "transform": [{"filter": "datum.p=='s' && indexof(['VWI','VWI,PQ','AWI'], datum.s) >= 0"}],
          "mark": {"type": "point", "filled": true, "size": 220, "strokeWidth": 1, "opacity": 1},
          "encoding": {
            "x": {"field": "a", "type": "quantitative"},
            "y": {"field": "m", "type": "quantitative"},
            "shape": {"field": "s", "type": "nominal"},
            "fill": {"field": "s", "type": "nominal"},
            "stroke": {"field": "s", "type": "nominal"}
          }
        },
        {
          "data": {"values": [{}]},
          "mark": {"type": "text", "text": "K input", "fontSize": 20, "color": "#333", "align": "center", "baseline": "alphabetic"},
          "encoding": {"x": {"datum": 1.1392, "type": "quantitative"}, "y": {"datum": 76.29, "type": "quantitative"}}
        },
        {
          "data": {"values": [{}]},
          "mark": {"type": "point", "shape": "circle", "size": 14641, "filled": false, "stroke": "#2f5d96", "strokeWidth": 2, "opacity": 1},
          "encoding": {"x": {"datum": 0.00483, "type": "quantitative"}, "y": {"datum": 109.96, "type": "quantitative"}}
        },
        {
          "data": {"values": [{}]},
          "mark": {"type": "point", "shape": "circle", "size": 14400, "filled": false, "stroke": "#ff0000", "strokeWidth": 2, "opacity": 1},
          "encoding": {"x": {"datum": 0.00483, "type": "quantitative"}, "y": {"datum": 86.77, "type": "quantitative"}}
        },
        {
          "data": {"values": [{}]},
          "mark": {"type": "rule", "color": "#2f5d96", "strokeWidth": 2},
          "encoding": {"x": {"datum": -0.5196, "type": "quantitative"}, "y": {"datum": 142.096, "type": "quantitative"}, "x2": {"datum": -0.1228}, "y2": {"datum": 116.667}}
        },
        {
          "data": {"values": [{}]},
          "mark": {"type": "point", "shape": "M0,0L-0.7,2L0.7,2Z", "size": 225, "filled": true, "color": "#2f5d96", "angle": 140.9, "opacity": 1},
          "encoding": {"x": {"datum": -0.1228, "type": "quantitative"}, "y": {"datum": 116.667, "type": "quantitative"}}
        },
        {
          "data": {"values": [{}]},
          "mark": {"type": "rule", "color": "#ff0000", "strokeWidth": 2},
          "encoding": {"x": {"datum": -0.4874, "type": "quantitative"}, "y": {"datum": 63.43, "type": "quantitative"}, "x2": {"datum": -0.1657}, "y2": {"datum": 86.206}}
        },
        {
          "data": {"values": [{}]},
          "mark": {"type": "point", "shape": "M0,0L-0.7,2L0.7,2Z", "size": 225, "filled": true, "color": "#ff0000", "angle": 36.4, "opacity": 1},
          "encoding": {"x": {"datum": -0.1657, "type": "quantitative"}, "y": {"datum": 86.206, "type": "quantitative"}}
        },
        {
          "data": {"values": [{}]},
          "mark": {"type": "rect", "fill": "white", "stroke": "#3f6ea8", "strokeWidth": 2},
          "encoding": {"x": {"datum": -1.011, "type": "quantitative"}, "x2": {"datum": 0.1383}, "y": {"datum": 154.294, "type": "quantitative"}, "y2": {"datum": 143.353}}
        },
        {
          "data": {"values": [{}]},
          "mark": {"type": "text", "text": "Quenched value", "fontSize": 47, "color": "#3566a0", "align": "center", "baseline": "alphabetic"},
          "encoding": {"x": {"datum": -0.4365, "type": "quantitative"}, "y": {"datum": 146.427, "type": "quantitative"}}
        },
        {
          "data": {"values": [{}]},
          "mark": {"type": "rect", "fill": "white", "stroke": "#ff0000", "strokeWidth": 2},
          "encoding": {"x": {"datum": -1.0477, "type": "quantitative"}, "x2": {"datum": 0.3276}, "y": {"datum": 63.474, "type": "quantitative"}, "y2": {"datum": 53.51}}
        },
        {
          "data": {"values": [{}]},
          "mark": {"type": "text", "text": "Two-flavor full QCD", "fontSize": 48, "color": "#ff0000", "align": "center", "baseline": "alphabetic"},
          "encoding": {"x": {"datum": -0.3609, "type": "quantitative"}, "y": {"datum": 55.607, "type": "quantitative"}}
        },
        {
          "data": {"values": [{}]},
          "mark": {"type": "text", "text": "K-input", "fontSize": 48, "color": "#000", "align": "center", "baseline": "alphabetic"},
          "encoding": {"x": {"datum": 1.2571, "type": "quantitative"}, "y": {"datum": 55.09, "type": "quantitative"}}
        },
        {
          "data": {"values": [{}]},
          "mark": {"type": "text", "text": "strange quark", "fontSize": 42, "fontWeight": "bold", "color": "#000", "align": "center", "baseline": "alphabetic"},
          "encoding": {"x": {"datum": 0.829, "type": "quantitative"}, "y": {"datum": 147.08, "type": "quantitative"}}
        },
        {
          "data": {"values": [{}]},
          "mark": {"type": "text", "text": "m", "fontSize": 17, "angle": 270, "align": "left", "baseline": "middle", "color": "#444"},
          "encoding": {"x": {"datum": -0.3196, "type": "quantitative"}, "y": {"datum": 84.11, "type": "quantitative"}}
        },
        {
          "data": {"values": [{}]},
          "mark": {"type": "text", "text": "s", "fontSize": 12, "angle": 270, "align": "left", "baseline": "middle", "color": "#444"},
          "encoding": {"x": {"datum": -0.3051, "type": "quantitative"}, "y": {"datum": 87.18, "type": "quantitative"}}
        },
        {
          "data": {"values": [{}]},
          "mark": {"type": "text", "text": "(m=2GeV)", "fontSize": 17, "angle": 270, "align": "left", "baseline": "middle", "color": "#444"},
          "encoding": {"x": {"datum": -0.3196, "type": "quantitative"}, "y": {"datum": 88.72, "type": "quantitative"}}
        },
        {
          "data": {"values": [{}]},
          "mark": {"type": "text", "text": "[MeV]", "fontSize": 17, "angle": 270, "align": "left", "baseline": "middle", "color": "#444"},
          "encoding": {"x": {"datum": -0.3196, "type": "quantitative"}, "y": {"datum": 106.33, "type": "quantitative"}}
        }
      ]
    }
  ]
}
